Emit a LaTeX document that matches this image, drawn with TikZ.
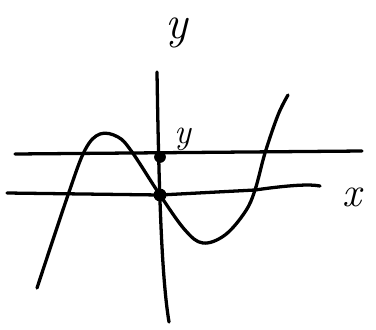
\documentclass[tikz,border=0pt]{standalone}
\begin{document}
\begin{tikzpicture}[x=0.03cm, y=-0.03cm, line join=round, line cap=round, line width=2.8pt]
				\useasboundingbox (0,0) rectangle (376,329);
				\coordinate (ytop) at (157,72);
				\coordinate (ybot) at (169,322);
				\coordinate (xl) at (7,193);
				\coordinate (xr) at (320,186);
				\coordinate (hl) at (15,154);
				\coordinate (hr) at (362,151);
				\draw (ytop) .. controls (159,200) and (162,280) .. (ybot);
				\draw (xl) -- (160,195) -- (255,190) .. controls (290,185) and (310,184) .. (xr);
				\draw (hl) -- (hr);
				\node[font=\fontsize{40}{40}\selectfont\itshape, anchor=base, inner sep=1pt] (ylab) at (177,38) {y};
				\node[font=\fontsize{30}{30}\selectfont\itshape, anchor=base, inner sep=1pt] (ylab2) at (183,143) {y};
				\node[font=\fontsize{36}{36}\selectfont\itshape] (xlab) at (352,197) {x};
				\draw plot[smooth, tension=0.6] coordinates {(37,288) (68,195) (85,150) (100,134) (118,137) (132,152) (160,195) (185,230) (203,243) (225,235) (245,212) (255,190) (265,153) (278,115) (288,95)};
				\fill (160,157) circle (5pt) node (A) {};
				\fill (160,195) circle (5.5pt) node (O) {};
\end{tikzpicture}
\end{document}
